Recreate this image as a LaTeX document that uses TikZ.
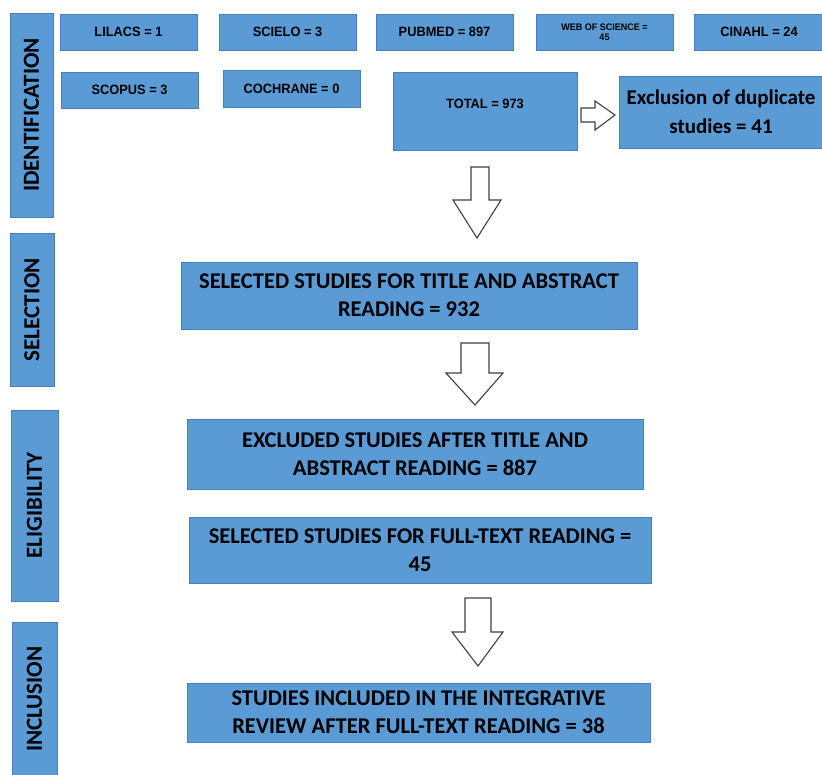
\documentclass[tikz,border=0pt]{standalone}
\usepackage{fontspec}
\setmainfont{Carlito}
\newfontfamily\narrowfont[FakeStretch=0.95]{Liberation Sans}
\definecolor{boxfill}{HTML}{5B9BD5}
\definecolor{boxline}{HTML}{4A7EBB}
\definecolor{arrline}{HTML}{404040}
\tikzset{
  bluebox/.style={draw=boxline, fill=boxfill, line width=0.8pt, inner sep=0pt, align=center, text=black},
  phase/.style={bluebox, font=\fontsize{23}{23}\selectfont\bfseries, rotate=90},
  srcbox/.style={bluebox, font=\narrowfont\fontsize{13.5}{13.5}\selectfont\bfseries},
  bigbox/.style={bluebox, font=\fontsize{22.5}{28}\selectfont\bfseries},
  blockarrow/.style={draw=arrline, fill=white, line width=1.1pt, line join=miter}
}
\begin{document}
\begin{tikzpicture}[x=1pt,y=-1pt]
\useasboundingbox (0,0) rectangle (822,774);
% phase labels (rotated: minimum width = vertical extent)
\node[phase, minimum width=204, minimum height=43] (ident) at (31.5,115) {IDENTIFICATION};
\node[phase, minimum width=153, minimum height=44] (sel) at (32,309.5) {SELECTION};
\node[phase, minimum width=191, minimum height=47] (elig) at (34.5,505.5) {ELIGIBILITY};
\node[phase, minimum width=154, minimum height=45] (incl) at (34.5,699) {INCLUSION};
% sources
\node[srcbox, minimum width=137, minimum height=36] (lilacs) at (128.5,32) {LILACS = 1};
\node[srcbox, minimum width=137, minimum height=36] (scielo) at (287.5,32) {SCIELO = 3};
\node[srcbox, minimum width=137, minimum height=36] (pubmed) at (444.5,32) {PUBMED = 897};
\node[bluebox, minimum width=137, minimum height=36, font=\narrowfont\fontsize{9.5}{10.5}\selectfont\bfseries] (wos) at (604.5,32) {WEB OF SCIENCE =\\45};
\node[srcbox, minimum width=130, minimum height=36] (cinahl) at (759,32) {CINAHL = 24};
\node[srcbox, minimum width=137, minimum height=36] (scopus) at (129.5,90) {SCOPUS = 3};
\node[srcbox, minimum width=137, minimum height=37] (cochrane) at (291.5,88.5) {COCHRANE = 0};
\node[srcbox, minimum width=184, minimum height=78, anchor=north west] (total) at (393,72) {};
\node[srcbox, draw=none, fill=none] (totaltext) at (485,104) {TOTAL = 973};
\node[bluebox, minimum width=204, minimum height=72, font=\fontsize{21}{29}\selectfont\bfseries] (dup) at (721,112) {Exclusion of duplicate\\studies = 41};
% main flow
\node[bigbox, minimum width=456, minimum height=67] (selta) at (409,295.5) {SELECTED STUDIES FOR TITLE AND ABSTRACT\\READING = 932};
\node[bigbox, minimum width=456, minimum height=70] (excl) at (415,454) {EXCLUDED STUDIES AFTER TITLE AND\\ABSTRACT READING = 887};
\node[bigbox, minimum width=462, minimum height=66] (full) at (420,550) {SELECTED STUDIES FOR FULL-TEXT READING =\\45};
\node[bigbox, minimum width=463, minimum height=59] (inc) at (418.5,712.5) {STUDIES INCLUDED IN THE INTEGRATIVE\\REVIEW AFTER FULL-TEXT READING = 38};
% block arrows
\draw[blockarrow] (581,108) -- (595,108) -- (595,101) -- (615,115) -- (595,130) -- (595,122) -- (581,122) -- cycle;
\draw[blockarrow] (471,167) -- (489,167) -- (489,200) -- (501,200) -- (477,238) -- (453,200) -- (471,200) -- cycle;
\draw[blockarrow] (461,343) -- (489,343) -- (489,373) -- (503,373) -- (475,405) -- (446,373) -- (461,373) -- cycle;
\draw[blockarrow] (465,598) -- (491,598) -- (491,632) -- (503,632) -- (478,666) -- (452,632) -- (465,632) -- cycle;
\end{tikzpicture}
\end{document}
